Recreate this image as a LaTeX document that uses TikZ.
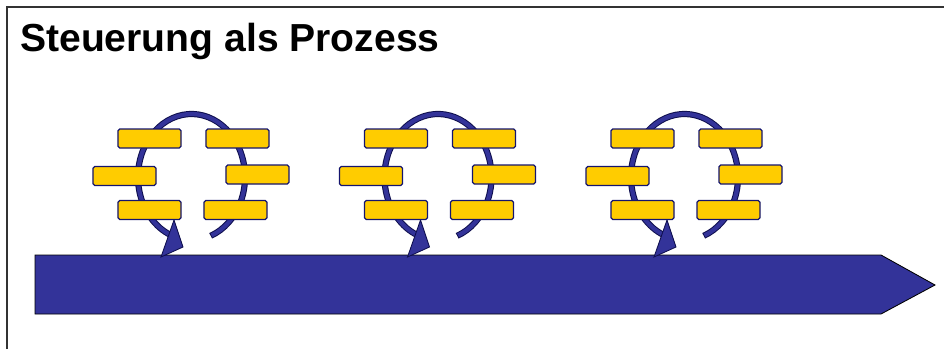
\documentclass[tikz,border=0pt]{standalone}
\usepackage{fontspec}
\setmainfont{Liberation Sans}
\usepackage{xcolor}
\usepackage{tikz}
\usetikzlibrary{positioning, arrows.meta}

\definecolor{procblue}{RGB}{51,51,153}
\definecolor{taskgold}{RGB}{255,204,0}
\definecolor{taskedge}{RGB}{20,20,110}

\begin{document}
\begin{tikzpicture}[x=0.025cm, y=-0.025cm,
    task/.style={draw=taskedge, fill=taskgold, line width=0.9pt, rounded corners=1.2pt,
                 minimum width=1.575cm, minimum height=0.475cm, inner sep=0pt},
    loopouter/.style={draw=taskedge!70!black, line width=0.155cm},
    loopinner/.style={draw=procblue, line width=0.105cm},
    timeline/.style={fill=procblue, draw=black, line width=0.6pt}]
    \useasboundingbox (0,0) rectangle (944,349);

    % Frame
    \draw[line width=1.1pt, black!80] (7,349) |- (944,7);

    % Title
    \node (title) [anchor=base west, inner sep=0pt, font=\bfseries\fontsize{27.8}{32}\selectfont] at (20,51.5) {Steuerung als Prozess};

    % Time axis
    \filldraw[timeline] (35,255) -- (881,255) -- (935,285) -- (881,314) -- (35,314) -- cycle;

    % Three control loops along the axis
    \foreach \g in {0,1,2} {
        \begin{scope}[shift={(\g*246.5,0)}]
            \coordinate (c\g) at (191.5,177); % centre of the loop
            % Loop arrow
            \draw[loopouter] ([shift={(69:53.5 and 63)}]c\g) arc[start angle=69, end angle=-254, x radius=53.5, y radius=63];
            \draw[loopinner] ([shift={(68:53.5 and 63)}]c\g) arc[start angle=68, end angle=-254, x radius=53.5, y radius=63];
            \filldraw[fill=procblue, draw=taskedge!70!black, line width=0.6pt] (174,220) -- (183,247) -- (161,257) -- cycle;
            % Tasks around the loop
            \node (tl\g) [task] at (149.5,138.5) {}; % upper left
            \node (tr\g) [task] at (237.5,138.5) {}; % upper right
            \node (ml\g) [task] at (124.5,176) {};   % middle left
            \node (mr\g) [task] at (257.5,174.5) {}; % middle right
            \node (bl\g) [task] at (149.5,210) {};   % lower left
            \node (br\g) [task] at (235.5,210) {};   % lower right
        \end{scope}
    }
\end{tikzpicture}
\end{document}
